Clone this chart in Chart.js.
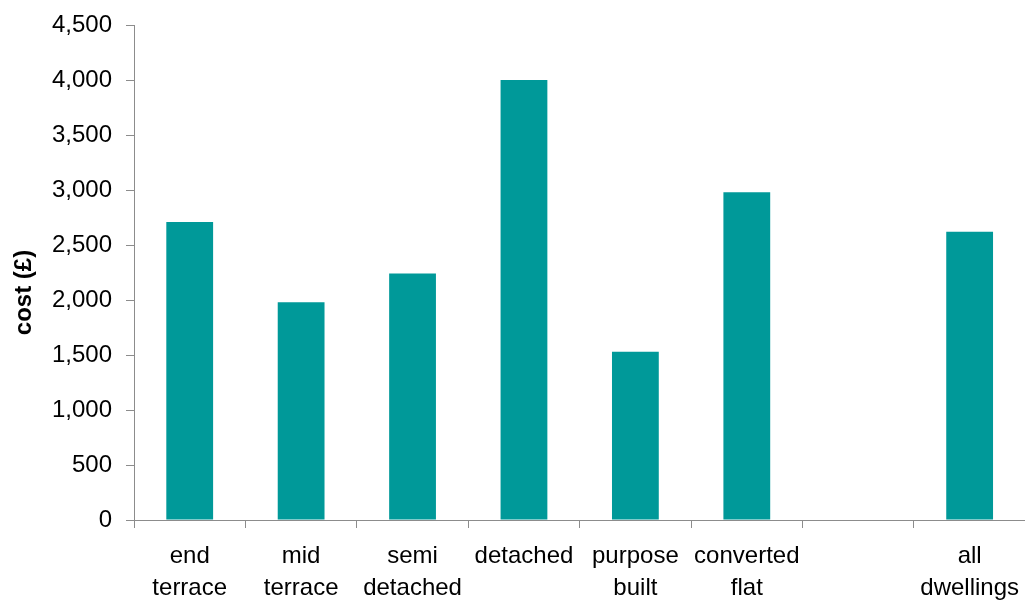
<!DOCTYPE html>
<html lang="en">
<head>
    <meta charset="utf-8">
    <title>Cost by dwelling type</title>
    <style>
        body {
            margin: 0;
            overflow: hidden;
            background: #ffffff;
        }
        #chart {
            display: block;
        }
    </style>
</head>
<body>
    <canvas id="chart" width="1031" height="601"></canvas>

    <script src="https://cdn.jsdelivr.net/npm/chart.js@4.4.1/dist/chart.umd.min.js"></script>
    <script>
        // categories (multi-line labels), the 7th slot is an empty gap
        const categories = [
            ["end", "terrace"],
            ["mid", "terrace"],
            ["semi", "detached"],
            ["detached"],
            ["purpose", "built"],
            ["converted", "flat"],
            [""],
            ["all", "dwellings"]
        ];
        const costs = [2710, 1980, 2240, 4000, 1530, 2980, null, 2620];

        const yMin = 0;
        const yMax = 4500;
        const yStep = 500;

        const barColor = "#009999";
        const axisColor = "#8c8c8c";
        const fontFamily = "'Liberation Sans', Arial, sans-serif";

        const ctx = document.getElementById("chart");

        new Chart(ctx, {
            type: "bar",
            data: {
                labels: categories,
                datasets: [{
                    data: costs,
                    backgroundColor: barColor,
                    borderWidth: 0,
                    categoryPercentage: 1,
                    barPercentage: 0.42
                }]
            },
            options: {
                responsive: false,
                animation: false,
                devicePixelRatio: 1,
                layout: { padding: { top: 25, right: 0, bottom: 0, left: 0 } },
                plugins: {
                    legend: { display: false },
                    tooltip: { enabled: false }
                },
                scales: {
                    x: {
                        offset: true,
                        grid: {
                            offset: true,
                            drawOnChartArea: false,
                            drawTicks: true,
                            tickLength: 8,
                            color: axisColor
                        },
                        border: { display: true, color: axisColor, width: 1 },
                        ticks: {
                            color: "#000000",
                            autoSkip: false,
                            maxRotation: 0,
                            minRotation: 0,
                            padding: 12,
                            font: { family: fontFamily, size: 24, lineHeight: 1.33 }
                        },
                        afterFit: (scale) => { scale.height = 81; }
                    },
                    y: {
                        min: yMin,
                        max: yMax,
                        grid: {
                            drawOnChartArea: false,
                            drawTicks: true,
                            tickLength: 8,
                            color: axisColor
                        },
                        border: { display: true, color: axisColor, width: 1 },
                        ticks: {
                            stepSize: yStep,
                            color: "#000000",
                            padding: 14,
                            font: { family: fontFamily, size: 24 },
                            callback: (v) => v.toLocaleString("en-US")
                        },
                        title: {
                            display: true,
                            // trailing spaces nudge the rotated title down a little
                            text: "cost (£)      ",
                            color: "#000000",
                            padding: { top: 10, bottom: 0 },
                            font: { family: fontFamily, size: 24, weight: "bold" }
                        },
                        afterFit: (scale) => {
                            scale.width = 134;
                            scale.paddingTop = 0;
                        }
                    }
                }
            }
        });
    </script>
</body>
</html>
